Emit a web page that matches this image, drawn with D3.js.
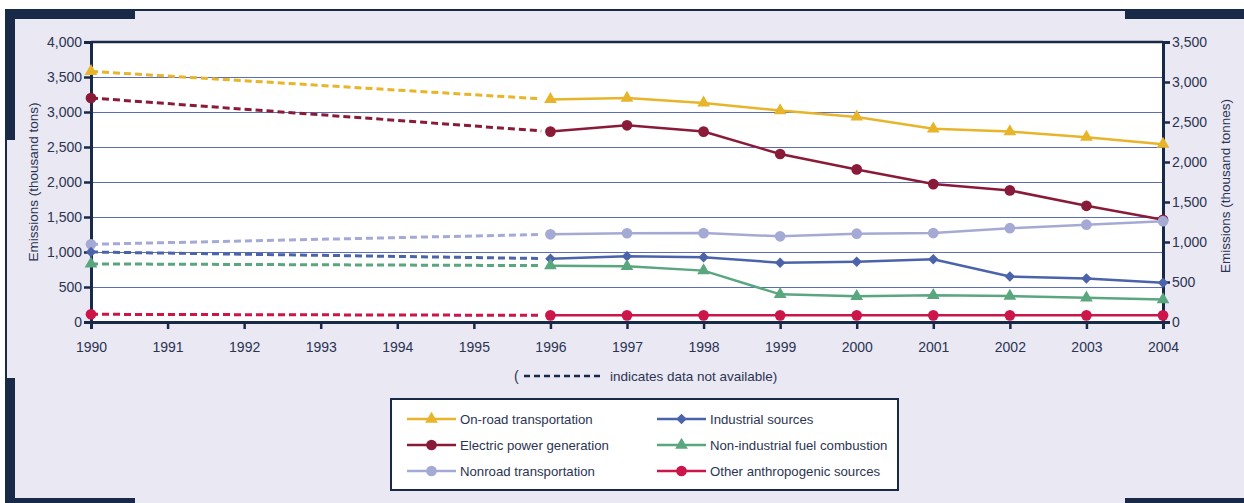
<!DOCTYPE html>
<html><head><meta charset="utf-8">
<script src="https://cdn.jsdelivr.net/npm/d3@7"></script>
<style>body{margin:0;background:#fff;}svg{display:block;font-family:"Liberation Sans",Arial,sans-serif;}</style>
</head><body><svg id="c" width="1244" height="503"></svg>
<script>
const years = [1990,1996,1997,1998,1999,2000,2001,2002,2003,2004];
const xTicks = [1990,1991,1992,1993,1994,1995,1996,1997,1998,1999,2000,2001,2002,2003,2004];
const leftTicks = [0,500,1000,1500,2000,2500,3000,3500,4000];
const rightTicks = [0,500,1000,1500,2000,2500,3000,3500];
const seriesNames = ["On-road transportation","Electric power generation","Nonroad transportation","Industrial sources","Non-industrial fuel combustion","Other anthropogenic sources"];
const onRoad = [3580,3180,3200,3130,3020,2930,2760,2720,2640,2540];
const electric = [3200,2720,2810,2720,2400,2180,1970,1880,1660,1460];
const nonroad = [1110,1253,1268,1270,1224,1262,1271,1340,1390,1440];
const industrial = [1000,905,938,924,848,862,895,650,620,560];
const nonIndustrial = [830,805,795,734,395,367,381,370,345,320];
const other = [110,95,95,95,95,95,95,95,95,95];

const colors = ["#e7b42a","#8a1b38","#a5aad5","#4a63aa","#5aa67f","#cc1549"];
const symbols = [d3.symbolTriangle,d3.symbolCircle,d3.symbolCircle,d3.symbolSquare,d3.symbolTriangle,d3.symbolCircle];
const symRot = [0,0,0,45,0,0];
const symSizes = [70,90,90,55,70,90];
const values = [onRoad,electric,nonroad,industrial,nonIndustrial,other];

const navy = "#182a47", txt = "#2b3452", grid = "#5b6db5", panel = "#eae8f3";
const svg = d3.select("#c");

// frame
svg.append("rect").attr("x",5).attr("y",9).attr("width",1239).attr("height",494).attr("fill",panel);
svg.append("rect").attr("x",5).attr("y",9).attr("width",1239).attr("height",2).attr("fill",navy);
svg.append("rect").attr("x",5).attr("y",9).attr("width",130).attr("height",10).attr("fill",navy);
svg.append("rect").attr("x",1125).attr("y",9).attr("width",119).attr("height",10).attr("fill",navy);
svg.append("rect").attr("x",5).attr("y",9).attr("width",10).attr("height",131).attr("fill",navy);
svg.append("rect").attr("x",5).attr("y",9).attr("width",2).attr("height",494).attr("fill",navy);
svg.append("rect").attr("x",5).attr("y",378).attr("width",10).attr("height",125).attr("fill",navy);
svg.append("rect").attr("x",5).attr("y",498).attr("width",130).attr("height",5).attr("fill",navy);
svg.append("rect").attr("x",1125).attr("y",498).attr("width",119).attr("height",5).attr("fill",navy);

const x = d3.scaleLinear().domain([1990,2004]).range([91,1163]);
const yL = d3.scaleLinear().domain([0,4000]).range([322,42]);
const yR = d3.scaleLinear().domain([0,3500]).range([322,42]);

svg.append("rect").attr("x",91).attr("y",42).attr("width",1072).attr("height",280).attr("fill","#fff");
// gridlines
svg.append("g").selectAll("line").data(leftTicks.filter(d=>d>0&&d<4000)).join("line")
  .attr("x1",91).attr("x2",1163).attr("y1",d=>Math.round(yL(d))+0.5).attr("y2",d=>Math.round(yL(d))+0.5)
  .attr("stroke",grid).attr("stroke-width",1);
svg.append("line").attr("x1",91).attr("x2",1163).attr("y1",42).attr("y2",42).attr("stroke",navy).attr("stroke-width",2.5);

function styleAxis(g){
  g.select(".domain").attr("stroke",navy).attr("stroke-width",3);
  g.selectAll(".tick line").attr("stroke",navy).attr("stroke-width",2.5);
  g.selectAll(".tick text").attr("fill",txt).attr("font-size",14).attr("font-family","Liberation Sans, Arial, sans-serif");
}
const fmt = d3.format(",");
svg.append("g").attr("transform","translate(91,0)")
  .call(d3.axisLeft(yL).tickValues(leftTicks).tickFormat(fmt).tickSizeOuter(0).tickSize(7).tickPadding(2))
  .call(styleAxis);
svg.append("g").attr("transform","translate(1163,0)")
  .call(d3.axisRight(yR).tickValues(rightTicks).tickFormat(fmt).tickSizeOuter(0).tickSize(7).tickPadding(2))
  .call(styleAxis);
svg.append("g").attr("transform","translate(0,322)")
  .call(d3.axisBottom(x).tickValues(xTicks).tickFormat(d3.format("d")).tickSizeOuter(0).tickSize(7).tickPadding(13))
  .call(styleAxis);

// axis titles
svg.append("text").attr("transform","translate(38,182) rotate(-90)").attr("text-anchor","middle")
  .attr("font-size",13.5).attr("fill",txt).text("Emissions (thousand tons)");
svg.append("text").attr("transform","translate(1230,186) rotate(-90)").attr("text-anchor","middle")
  .attr("font-size",13.5).attr("fill",txt).text("Emissions (thousand tonnes)");

// series
const lineGen = d3.line().x(d=>x(d[0])).y(d=>yL(d[1]));
values.forEach((vals,i)=>{
  const pts = years.map((yr,j)=>[yr,vals[j]]);
  const a = pts[0], b = pts[1];
  const endYr = 1996 - 0.12;
  const endV = a[1] + (b[1]-a[1])*(endYr-1990)/6;
  svg.append("path").attr("d",lineGen([a,[endYr,endV]])).attr("fill","none")
    .attr("stroke",colors[i]).attr("stroke-width",3).attr("stroke-dasharray","7,4");
  svg.append("path").attr("d",lineGen(pts.slice(1))).attr("fill","none")
    .attr("stroke",colors[i]).attr("stroke-width",2.5);
  svg.append("g").selectAll("path").data(pts).join("path")
    .attr("transform",d=>`translate(${x(d[0])},${yL(d[1])}) rotate(${symRot[i]})`)
    .attr("d",d3.symbol().type(symbols[i]).size(symSizes[i]))
    .attr("fill",colors[i]);
});

// note
const note = svg.append("g");
note.append("text").attr("x",514).attr("y",381).attr("font-size",14).attr("fill",txt).text("(");
note.append("line").attr("x1",524).attr("x2",603).attr("y1",376).attr("y2",376).attr("stroke",navy)
  .attr("stroke-width",2.5).attr("stroke-dasharray","6,4");
note.append("text").attr("x",610).attr("y",381).attr("font-size",13.5).attr("fill",txt).text("indicates data not available)");

// legend
const lg = svg.append("g");
lg.append("rect").attr("x",391).attr("y",399).attr("width",507).attr("height",91).attr("fill","#fff")
  .attr("stroke",navy).attr("stroke-width",2);
const legPos = [[407,419],[407,445],[407,471],[657,419],[657,445],[657,471]];
seriesNames.forEach((name,i)=>{
  const [lx,ly] = legPos[i];
  lg.append("line").attr("x1",lx).attr("x2",lx+49).attr("y1",ly).attr("y2",ly).attr("stroke",colors[i]).attr("stroke-width",2.5);
  lg.append("path").attr("transform",`translate(${lx+24.5},${ly}) rotate(${symRot[i]})`).attr("d",d3.symbol().type(symbols[i]).size(symSizes[i])).attr("fill",colors[i]);
  lg.append("text").attr("x",lx+53).attr("y",ly+5).attr("font-size",13.2).attr("fill",txt).text(name);
});
</script></body></html>
